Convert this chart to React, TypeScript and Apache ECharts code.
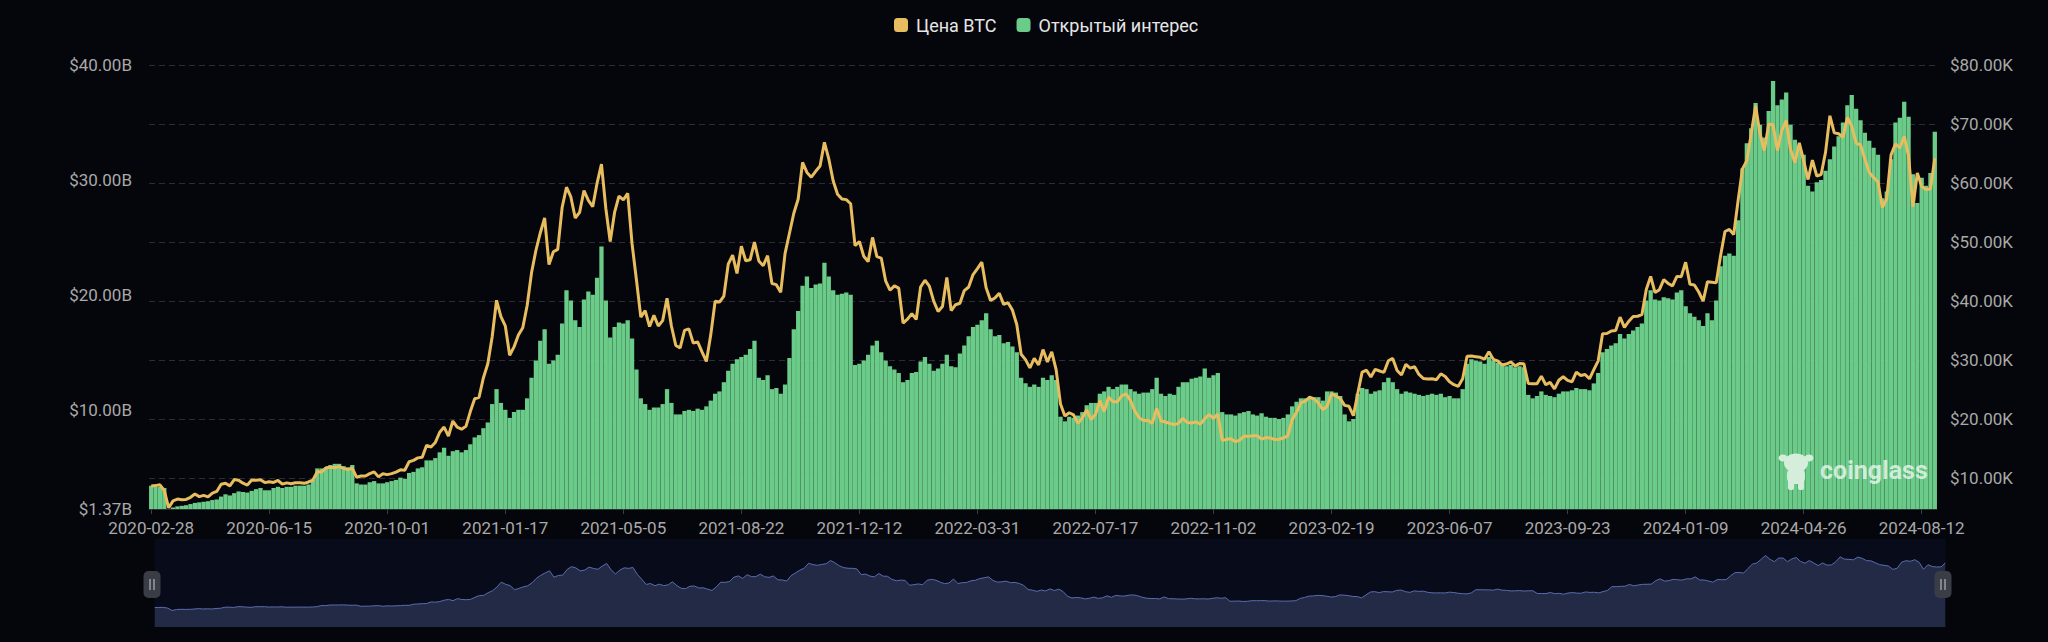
import React, { useEffect, useRef } from 'react';
import * as echarts from 'echarts';

// Category layout: one point every 4 days; a label every 27 points (the dates on the axis)
const SEGMENT_STARTS = [
  '2020-02-28', '2020-06-15', '2020-10-01', '2021-01-17', '2021-05-05', '2021-08-22',
  '2021-12-12', '2022-03-31', '2022-07-17', '2022-11-02', '2023-02-19', '2023-06-07',
  '2023-09-23', '2024-01-09', '2024-04-26', '2024-08-12',
];
const SEGMENT_LENGTHS = [27, 27, 27, 27, 27, 27, 27, 27, 27, 27, 27, 27, 27, 27, 27, 4];
const STEP_DAYS = 4;

// BTC price (USD), one array per label segment
const PRICE_2020A = [8700, 8760, 8900, 7930, 5000, 6180, 6480, 6370, 6420, 6780, 7330, 6900, 7100, 6860, 7500, 7770, 8980, 9150, 8720, 9790, 9680, 9170, 8850, 9700, 9660, 9750, 9270];
const PRICE_2020B = [9430, 9300, 9630, 9010, 9230, 9070, 9240, 9240, 9150, 9380, 9700, 11110, 11060, 11770, 11880, 11790, 11980, 11680, 11470, 11710, 10170, 10380, 10390, 10790, 11090, 10240, 10780];
const PRICE_2020C = [10620, 10790, 11060, 11430, 11360, 12800, 13030, 13460, 13560, 15590, 15300, 16070, 17800, 18680, 17150, 19700, 18650, 18320, 18800, 21300, 23480, 23730, 27040, 29400, 33970, 40150, 37390];
const PRICE_2021A = [35830, 30830, 32260, 34260, 35500, 39260, 44800, 48580, 51550, 54090, 46200, 48370, 48780, 55860, 59300, 57650, 54080, 55040, 58740, 57060, 56000, 60000, 63200, 55700, 50100, 55030, 57800];
const PRICE_2021B = [57170, 58240, 49700, 43600, 37300, 38400, 35700, 37600, 35800, 36700, 40500, 35800, 32500, 32100, 35050, 35300, 32900, 33100, 31400, 29800, 34300, 39990, 39850, 40870, 46280, 47800, 44700];
const PRICE_2021C = [49300, 46850, 47000, 50000, 46800, 46000, 47700, 43000, 42800, 41500, 48100, 51500, 54900, 57300, 63500, 61800, 61000, 62000, 62900, 66900, 64100, 60400, 58100, 57300, 57200, 56500, 49400];
const PRICE_2021D = [50100, 47600, 46700, 50800, 47550, 47300, 43450, 41860, 42600, 42200, 36300, 36950, 37900, 36900, 42400, 43550, 42550, 40000, 38250, 39100, 44000, 38400, 39400, 39650, 41800, 42400, 44500];
const PRICE_2022A = [45500, 46600, 42250, 40100, 40550, 41350, 39450, 39750, 38500, 36050, 31000, 30100, 28700, 30300, 29200, 31800, 29700, 31400, 28400, 22600, 20550, 21100, 20730, 19300, 20200, 21600, 19950];
const PRICE_2022B = [20800, 23150, 21300, 23770, 22980, 22950, 23950, 24300, 23200, 21400, 20250, 19800, 19830, 19290, 21830, 19700, 19540, 19300, 19100, 19310, 20160, 19450, 19380, 19550, 19170, 20090, 20800];
const PRICE_2022C = [20150, 20900, 16400, 16600, 16700, 16200, 16450, 17150, 17100, 17220, 17200, 16630, 16900, 16840, 16550, 16620, 16830, 17180, 19930, 21180, 22780, 23060, 23740, 23430, 22760, 21630, 22200];
const PRICE_2023A = [24300, 23950, 23500, 22350, 22200, 20600, 24350, 28000, 28300, 27150, 28450, 28170, 27950, 29900, 30300, 28250, 27500, 29300, 28650, 28900, 27600, 26900, 26800, 26850, 26700, 27700, 27250];
const PRICE_2023B = [26350, 25850, 25580, 26850, 30680, 30700, 30600, 30500, 30170, 31450, 30150, 29900, 29200, 29350, 29700, 29050, 29430, 29400, 26050, 26000, 26000, 27300, 25850, 26250, 25150, 26600, 27200];
const PRICE_2023C = [26580, 26350, 27980, 27420, 27590, 26850, 28400, 29900, 34500, 34520, 34950, 35030, 37300, 35550, 36600, 37400, 37450, 37720, 41990, 44200, 41450, 41950, 43650, 43000, 42600, 44200, 44150];
const PRICE_2024A = [46600, 42850, 42750, 41550, 40000, 43300, 43200, 43100, 47750, 51800, 52150, 51300, 57000, 62400, 63800, 68300, 73100, 68400, 65500, 69950, 69900, 65500, 68900, 70600, 65700, 63500, 66800];
const PRICE_2024B = [63800, 60600, 63900, 61200, 61450, 65200, 71400, 68500, 68350, 67750, 71100, 69650, 66750, 66500, 64100, 61800, 60950, 60200, 55850, 57350, 64800, 66650, 65950, 67900, 64600, 56000, 61700];
const PRICE_2024C = [59400, 58900, 59000, 64200];

// Open interest (USD billions), one array per label segment
const OI_2020A = [3.4, 3.3, 3.3, 3.2, 1.37, 1.5, 1.6, 1.65, 1.7, 1.8, 1.9, 1.95, 2.0, 2.05, 2.15, 2.2, 2.45, 2.65, 2.55, 2.75, 2.9, 2.85, 2.8, 2.95, 3.1, 3.2, 3.0];
const OI_2020B = [3.0, 3.2, 3.3, 3.2, 3.3, 3.3, 3.4, 3.4, 3.4, 3.5, 3.9, 4.9, 4.9, 5.0, 5.2, 5.3, 5.3, 5.1, 5.0, 5.2, 3.6, 3.5, 3.5, 3.7, 3.8, 3.6, 3.6];
const OI_2020C = [3.7, 3.8, 3.9, 4.1, 4.0, 4.5, 4.6, 4.9, 5.0, 5.6, 5.6, 5.8, 6.3, 6.7, 6.0, 6.4, 6.5, 6.3, 6.5, 7.0, 7.6, 7.8, 8.4, 8.9, 10.5, 11.8, 10.6];
const OI_2021A = [10.0, 9.3, 9.8, 10.0, 10.0, 11.0, 12.8, 14.3, 16.0, 17.0, 14.0, 14.3, 14.8, 17.5, 20.4, 19.5, 17.8, 17.2, 19.6, 20.3, 20.0, 21.5, 24.2, 19.5, 16.3, 17.2, 17.6];
const OI_2021B = [17.5, 17.8, 16.2, 13.5, 11.0, 10.5, 10.0, 10.2, 10.2, 10.5, 11.8, 10.6, 9.6, 9.6, 9.9, 10.0, 9.9, 10.1, 10.0, 10.3, 10.8, 11.4, 11.6, 12.4, 13.4, 14.0, 14.4];
const OI_2021C = [14.6, 14.8, 15.3, 16.0, 12.8, 12.6, 13.0, 11.8, 11.9, 11.4, 12.2, 14.5, 17.0, 18.6, 20.8, 21.6, 20.6, 20.9, 21.0, 22.8, 21.6, 20.4, 20.0, 20.1, 20.2, 20.0, 13.9];
const OI_2021D = [14.0, 14.3, 14.8, 15.6, 16.0, 15.0, 14.3, 13.8, 13.5, 13.2, 12.4, 12.6, 13.2, 13.3, 14.2, 14.6, 14.0, 13.4, 13.6, 14.0, 14.8, 13.8, 13.7, 14.9, 15.6, 16.4, 17.2];
const OI_2022A = [17.4, 17.8, 18.4, 17.0, 16.4, 16.5, 15.8, 15.9, 15.5, 15.0, 12.8, 12.3, 12.0, 12.2, 12.0, 12.8, 12.6, 13.0, 12.6, 9.4, 9.0, 9.4, 9.3, 9.5, 9.8, 10.4, 10.6];
const OI_2022B = [10.6, 11.4, 11.6, 12.0, 11.8, 12.0, 12.2, 12.2, 11.8, 11.6, 11.4, 11.5, 11.5, 11.8, 12.8, 11.4, 11.2, 11.4, 11.3, 12.0, 12.4, 12.4, 12.7, 12.8, 12.9, 13.6, 12.8];
const OI_2022C = [13.0, 13.2, 9.8, 9.6, 9.6, 9.5, 9.7, 9.8, 9.9, 9.6, 9.5, 9.7, 9.4, 9.3, 9.3, 9.2, 9.3, 9.6, 10.3, 10.7, 11.0, 11.0, 11.0, 11.1, 11.1, 10.8, 11.6];
const OI_2023A = [11.6, 11.5, 11.2, 9.6, 9.0, 9.2, 11.4, 11.9, 11.8, 11.4, 11.6, 11.7, 12.4, 12.8, 12.4, 11.8, 11.4, 11.6, 11.5, 11.4, 11.3, 11.2, 11.3, 11.4, 11.3, 11.4, 11.1];
const OI_2023B = [11.2, 11.0, 11.0, 11.8, 14.0, 14.4, 14.3, 14.2, 14.0, 14.6, 14.3, 14.1, 13.9, 13.8, 13.9, 13.7, 13.8, 13.7, 11.3, 11.0, 11.2, 11.6, 11.3, 11.2, 11.1, 11.4, 11.6];
const OI_2023C = [11.6, 11.7, 11.9, 11.8, 11.8, 11.7, 12.3, 13.2, 15.0, 15.3, 15.6, 15.8, 16.6, 16.2, 16.6, 16.9, 17.2, 17.5, 19.5, 20.4, 19.6, 19.5, 19.8, 19.7, 19.6, 20.2, 20.4];
const OI_2024A = [19.0, 18.4, 18.1, 17.8, 17.3, 18.4, 17.8, 19.5, 22.5, 23.4, 23.6, 23.4, 26.5, 31.0, 33.2, 34.5, 36.7, 34.8, 33.7, 36.0, 38.6, 36.5, 37.0, 37.6, 34.8, 33.5, 32.8];
const OI_2024B = [32.2, 29.5, 29.0, 29.8, 30.0, 30.8, 31.8, 32.9, 33.8, 35.0, 36.5, 37.4, 36.2, 35.2, 34.1, 33.4, 32.8, 32.2, 28.4, 29.0, 31.8, 35.0, 35.4, 36.8, 35.5, 30.5, 28.0];
const OI_2024C = [30.2, 29.5, 30.6, 34.2];

const PRICE = [
  ...PRICE_2020A, ...PRICE_2020B, ...PRICE_2020C, ...PRICE_2021A, ...PRICE_2021B, ...PRICE_2021C,
  ...PRICE_2021D, ...PRICE_2022A, ...PRICE_2022B, ...PRICE_2022C, ...PRICE_2023A, ...PRICE_2023B,
  ...PRICE_2023C, ...PRICE_2024A, ...PRICE_2024B, ...PRICE_2024C,
];
const OPEN_INTEREST = [
  ...OI_2020A, ...OI_2020B, ...OI_2020C, ...OI_2021A, ...OI_2021B, ...OI_2021C,
  ...OI_2021D, ...OI_2022A, ...OI_2022B, ...OI_2022C, ...OI_2023A, ...OI_2023B,
  ...OI_2023C, ...OI_2024A, ...OI_2024B, ...OI_2024C,
];

function buildCategories(): string[] {
  const out: string[] = [];
  SEGMENT_STARTS.forEach((s, i) => {
    const [y, m, d] = s.split('-').map(Number);
    for (let j = 0; j < SEGMENT_LENGTHS[i]; j++) {
      const dt = new Date(Date.UTC(y, m - 1, d + j * STEP_DAYS));
      out.push(dt.toISOString().slice(0, 10));
    }
  });
  return out;
}
const CATEGORIES = buildCategories();

const GOLD = '#e8bd5f';
const GREEN = '#6bcb88';
const BG = '#05060b';
const AXIS_TEXT = '#a9a9a9';
const FONT = 'Roboto, "Noto Sans", sans-serif';
const MARK = '#d4eedb';

function handle(cx: number) {
  return {
    type: 'group',
    z: 100,
    children: [
      { type: 'rect', shape: { x: cx - 8.5, y: 571, width: 17, height: 27, r: 5 }, style: { fill: '#3a3d46' }, z: 100 },
      { type: 'line', shape: { x1: cx - 2, y1: 579, x2: cx - 2, y2: 590 }, style: { stroke: '#9a9ca3', lineWidth: 1.5 }, z: 101 },
      { type: 'line', shape: { x1: cx + 2, y1: 579, x2: cx + 2, y2: 590 }, style: { stroke: '#9a9ca3', lineWidth: 1.5 }, z: 101 },
    ],
  };
}

export default function App() {
  const ref = useRef<HTMLDivElement>(null);

  useEffect(() => {
    document.body.style.margin = '0';
    document.body.style.background = BG;
    if (!ref.current) return;
    const chart = echarts.init(ref.current, undefined, { renderer: 'svg' });
    chart.setOption({
      animation: false,
      backgroundColor: BG,
      textStyle: { fontFamily: FONT },
      legend: {
        data: ['Цена BTC', 'Открытый интерес'],
        left: 889,
        top: 11,
        icon: 'roundRect',
        itemWidth: 14,
        itemHeight: 14,
        itemGap: 20,
        textStyle: { color: '#e6e6e6', fontSize: 18, fontFamily: FONT, padding: [0, 0, 0, 3] },
      },
      grid: { left: 149, right: 111, top: 65, bottom: 133 },
      xAxis: {
        type: 'category',
        data: CATEGORIES,
        boundaryGap: true,
        axisLine: { show: true, lineStyle: { color: '#2c2f36' } },
        axisTick: { show: true, interval: 26, alignWithLabel: true, length: 5, lineStyle: { color: '#3a3d44' } },
        axisLabel: { interval: 26, color: AXIS_TEXT, fontSize: 17, margin: 10, fontFamily: FONT },
        splitLine: { show: false },
      },
      yAxis: [
        {
          type: 'value',
          position: 'left',
          min: 1.37,
          max: 40,
          splitNumber: 4,
          axisLine: { show: false },
          axisTick: { show: false },
          splitLine: { show: false },
          axisLabel: {
            color: AXIS_TEXT,
            fontSize: 17,
            margin: 17,
            fontFamily: FONT,
            formatter: (v: number) => '$' + v.toFixed(2) + 'B',
          },
        },
        {
          type: 'value',
          position: 'right',
          min: 4800,
          max: 80000,
          splitNumber: 8,
          axisLine: { show: false },
          axisTick: { show: false },
          splitLine: { show: true, lineStyle: { color: '#2b2d33', type: [6, 4], width: 1 } },
          axisLabel: {
            color: AXIS_TEXT,
            fontSize: 17,
            margin: 13,
            fontFamily: FONT,
            showMinLabel: false,
            formatter: (v: number) => '$' + (v / 1000).toFixed(2) + 'K',
          },
        },
      ],
      dataZoom: [
        {
          type: 'slider',
          xAxisIndex: 0,
          start: 0,
          end: 100,
          left: 152,
          right: 105,
          top: 539,
          height: 88,
          backgroundColor: '#080c1a',
          borderColor: 'transparent',
          fillerColor: 'rgba(0,0,0,0)',
          showDetail: false,
          brushSelect: false,
          moveHandleSize: 0,
          moveHandleStyle: { opacity: 0 },
          handleStyle: { opacity: 0 },
          emphasis: { handleStyle: { opacity: 0 }, moveHandleStyle: { opacity: 0 } },
          dataBackground: {
            lineStyle: { color: '#5a6cb0', width: 1, opacity: 1 },
            areaStyle: { color: '#232a45', opacity: 1 },
          },
          selectedDataBackground: {
            lineStyle: { color: '#5a6cb0', width: 1, opacity: 1 },
            areaStyle: { color: '#232a45', opacity: 1 },
          },
        },
      ],
      series: [
        {
          name: 'Цена BTC',
          type: 'line',
          yAxisIndex: 1,
          data: PRICE,
          symbol: 'none',
          showSymbol: false,
          lineStyle: { color: GOLD, width: 3 },
          itemStyle: { color: GOLD },
          z: 3,
        },
        {
          name: 'Открытый интерес',
          type: 'bar',
          yAxisIndex: 0,
          data: OPEN_INTEREST,
          barCategoryGap: '2%',
          itemStyle: { color: GREEN },
          z: 2,
        },
      ],
      graphic: [
        handle(152),
        handle(1943),
        {
          type: 'group',
          z: 50,
          children: [
            { type: 'ellipse', shape: { cx: 1783, cy: 458, rx: 4.5, ry: 3.5 }, style: { fill: MARK }, z: 50 },
            { type: 'ellipse', shape: { cx: 1809, cy: 458, rx: 4.5, ry: 3.5 }, style: { fill: MARK }, z: 50 },
            { type: 'ellipse', shape: { cx: 1796, cy: 463, rx: 12, ry: 9.5 }, style: { fill: MARK }, z: 50 },
            { type: 'rect', shape: { x: 1787, y: 468, width: 18, height: 16, r: 6 }, style: { fill: MARK }, z: 50 },
            { type: 'rect', shape: { x: 1788, y: 480, width: 6, height: 10, r: 2 }, style: { fill: MARK }, z: 50 },
            { type: 'rect', shape: { x: 1798, y: 480, width: 6, height: 10, r: 2 }, style: { fill: MARK }, z: 50 },
            {
              type: 'text',
              x: 1820,
              y: 470,
              z: 50,
              style: {
                text: 'coinglass',
                fontSize: 25,
                fontWeight: 'bold',
                fontFamily: FONT,
                fill: 'rgba(255,255,255,0.7)',
                verticalAlign: 'middle',
              },
            },
          ],
        },
      ],
    });
    return () => chart.dispose();
  }, []);

  return <div ref={ref} style={{ width: 2048, height: 642 }} />;
}
